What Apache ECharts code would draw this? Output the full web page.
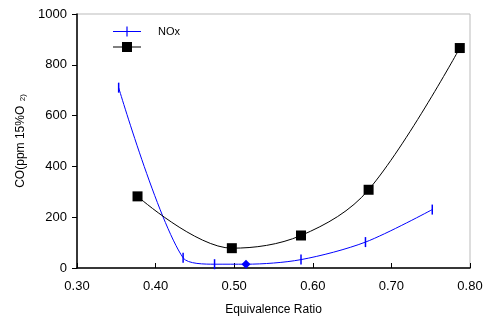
<!DOCTYPE html>
<html><head><meta charset="utf-8">
<script src="https://cdn.jsdelivr.net/npm/echarts@6/dist/echarts.min.js"></script>
<style>html,body{margin:0;padding:0;background:#fff}#c{width:490px;height:326px}</style>
</head><body><div id="c"></div>
<script>
const coX = [0.377, 0.497, 0.585, 0.671, 0.787];
const coY = [282, 78, 128, 308, 866];
const noxX = [0.353, 0.435, 0.475, 0.515, 0.585, 0.667, 0.752];
const noxY = [710, 40, 15, 15, 33, 102, 230];
const xTicks = [0.30, 0.40, 0.50, 0.60, 0.70, 0.80];
const yTicks = [0, 200, 400, 600, 800, 1000];

const chart = echarts.init(document.getElementById('c'));
const font = 'Liberation Sans, Arial, sans-serif';
const noxIcon = 'path://M0,4.5 L28,4.5 L28,5.5 L0,5.5 Z M13.4,0 L14.6,0 L14.6,10 L13.4,10 Z';
const coIcon = 'path://M0,4.5 L28,4.5 L28,5.5 L0,5.5 Z M9,0 L19,0 L19,10 L9,10 Z';
chart.setOption({
  animation: false,
  grid: {left: 77, right: 20, top: 14, bottom: 58, show: true, borderColor: '#bbb', borderWidth: 1},
  legend: {
    orient: 'vertical', left: 108, top: 21, itemWidth: 28, itemHeight: 10, itemGap: 5,
    data: [{name: 'NOx', icon: noxIcon}, {name: 'CO', icon: coIcon}],
    formatter: n => n === 'NOx' ? 'NOx' : '',
    textStyle: {fontFamily: font, fontSize: 11, color: '#000', padding: [0,0,0,12]}
  },
  xAxis: {
    type: 'value', min: 0.30, max: 0.80, interval: 0.1,
    name: 'Equivalence Ratio', nameLocation: 'middle', nameGap: 36,
    nameTextStyle: {fontFamily: font, fontSize: 12, color: '#000'},
    axisLine: {lineStyle: {color: '#000', width: 1.5}},
    axisTick: {inside: true, length: 5, lineStyle: {color: '#000'}},
    axisLabel: {fontFamily: font, fontSize: 13, color: '#000', margin: 12, formatter: v => v.toFixed(2)},
    splitLine: {show: false}
  },
  yAxis: {
    type: 'value', min: 0, max: 1000, interval: 200,
    name: '{a|CO(ppm 15%O}{b|  2)}', nameLocation: 'middle', nameGap: 50,
    nameTextStyle: {fontFamily: font, fontSize: 12, color: '#000',
      rich: {a: {fontFamily: font, fontSize: 12, color: '#000'}, b: {fontFamily: font, fontSize: 8, color: '#000', padding:[4,0,0,0]}}},
    axisLine: {show: true, lineStyle: {color: '#000', width: 1.5}},
    axisTick: {show: true, length: 5, lineStyle: {color: '#000'}},
    axisLabel: {fontFamily: font, fontSize: 13, color: '#000', margin: 10, formatter: v => String(v)},
    splitLine: {show: false}
  },
  series: [
    {
      name: 'NOx', type: 'line', smooth: 0.3,
      data: noxX.map((x, i) => i === 3 ? {value: [x, noxY[i]], symbol: 'diamond', symbolSize: 9} : [x, noxY[i]]),
      symbol: 'rect', symbolSize: [1.5, 10],
      lineStyle: {color: '#0000ff', width: 1},
      itemStyle: {color: '#0000ff'}
    },
    {
      name: 'CO', type: 'line', smooth: 0.35,
      data: coX.map((x, i) => [x, coY[i]]),
      symbol: 'rect', symbolSize: 10,
      lineStyle: {color: '#000', width: 1},
      itemStyle: {color: '#000'}
    }
  ]
});
</script></body></html>
